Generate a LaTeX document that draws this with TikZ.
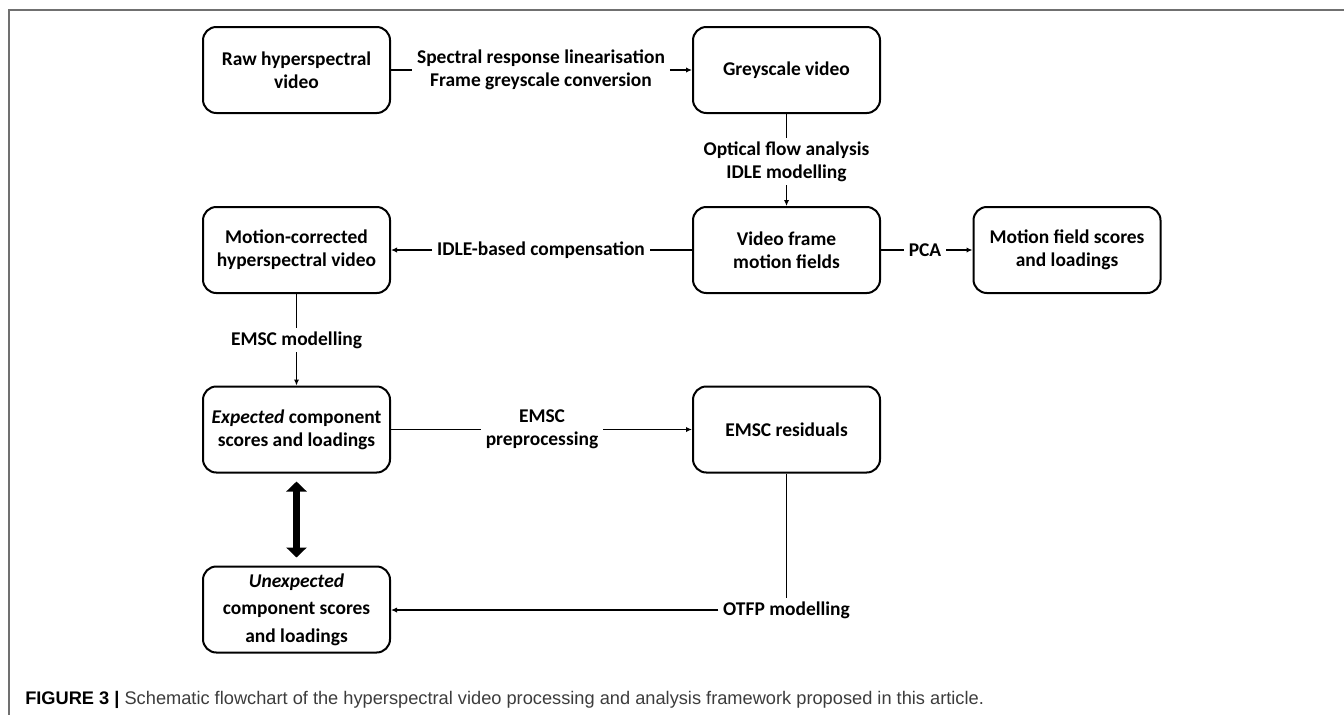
\documentclass[tikz,border=0pt]{standalone}
\usepackage{fontspec}
\setmainfont{Carlito}
\newfontfamily\capfont{Liberation Sans}
\usetikzlibrary{arrows.meta}
\definecolor{capgray}{HTML}{3C3C3C}
\definecolor{framegray}{HTML}{707070}
\begin{document}
\begin{tikzpicture}[x=0.75pt,y=-0.75pt,
  box/.style={draw=black, line width=1.5pt, rounded corners=10pt,
    minimum width=140.25pt, minimum height=64.5pt, align=center, inner sep=2pt,
    font=\bfseries\fontsize{14.6pt}{17.4pt}\selectfont},
  lab/.style={align=center, inner xsep=3.5pt, inner ysep=2.5pt,
    font=\bfseries\fontsize{14.6pt}{17.4pt}\selectfont},
  conn/.style={line width=1pt, draw=black},
  arr/.style={conn, -{Latex[length=4.5pt,width=4pt]}},
  dbl/.style={line width=5pt, {Triangle[width=15pt,length=7.5pt]}-{Triangle[width=15pt,length=7.5pt]}, shorten <=6pt, shorten >=6pt}
]
\useasboundingbox (0,0) rectangle (1344,714);
% frame
\draw[framegray, line width=1pt] (9,720) -- (9,10) -- (1350,10);
% boxes
\node[box] (raw) at (296.5,70) {Raw hyperspectral\\video};
\node[box] (grey) at (786.5,70) {Greyscale video};
\node[box] (vmf) at (786.5,250) {Video frame\\motion fields};
\node[box] (mfs) at (1067,250) {Motion field scores\\and loadings};
\node[box] (mcv) at (296.5,250) {Motion-corrected\\hyperspectral video};
\node[box] (exp) at (296.5,429.5) {\textit{Expected} component\\scores and loadings};
\node[box] (res) at (786.5,429.5) {EMSC residuals};
\node[box, font=\bfseries\fontsize{14.6pt}{20.5pt}\selectfont] (unx) at (296.5,609.5) {\textit{Unexpected}\\component scores\\and loadings};
% labels
\node[lab] (l1) at (541,70) {Spectral response linearisation\\Frame greyscale conversion};
\node[lab] (l2) at (786.5,161.5) {Optical flow analysis\\IDLE modelling};
\node[lab] (l3) at (541,250) {IDLE-based compensation};
\node[lab] (l4) at (925,250) {PCA};
\node[lab] (l5) at (296.5,340) {EMSC modelling};
\node[lab] (l6) at (542,429.5) {EMSC\\preprocessing};
\node[lab] (l7) at (786.5,610) {OTFP modelling};
% connectors
\draw[conn] (raw) -- (l1); \draw[arr] (l1) -- (grey);
\draw[conn] (grey) -- (l2); \draw[arr] (l2) -- (vmf);
\draw[conn] (vmf) -- (l3); \draw[arr] (l3) -- (mcv);
\draw[conn] (vmf) -- (l4); \draw[arr] (l4) -- (mfs);
\draw[conn] (mcv) -- (l5); \draw[arr] (l5) -- (exp);
\draw[conn] (exp) -- (l6); \draw[arr] (l6) -- (res);
\draw[conn] (res) -- (l7); \draw[arr] (l7.west) -- (l7.west -| unx.east);
\draw[dbl] (exp.south) -- (unx.north);
% caption
\node[anchor=base west, inner sep=0pt, font=\capfont\fontsize{13.5pt}{16pt}\selectfont] (cap) at (25,704)
  {\resizebox{719pt}{!}{\textbf{FIGURE 3 |} \color{capgray}Schematic flowchart of the hyperspectral video processing and analysis framework proposed in this article.}};
\end{tikzpicture}
\end{document}
